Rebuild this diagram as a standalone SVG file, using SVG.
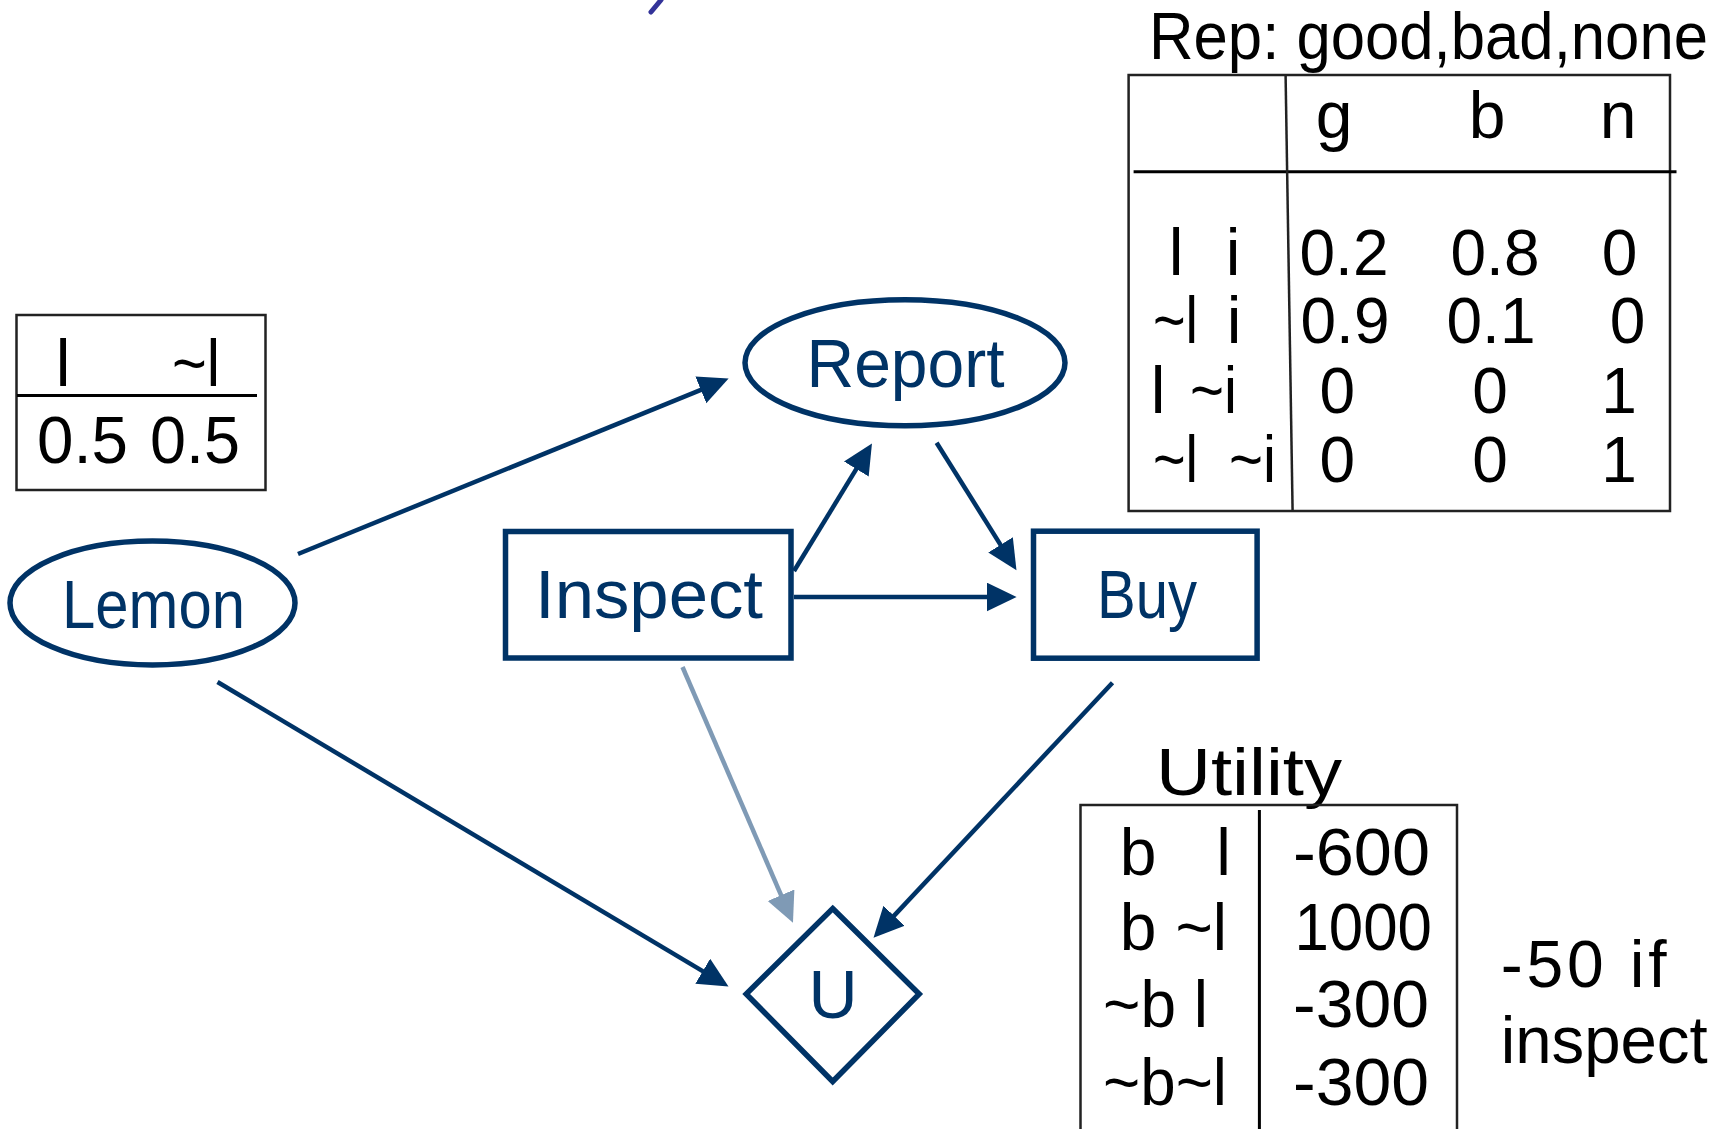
<svg xmlns="http://www.w3.org/2000/svg" width="1731" height="1129" viewBox="0 0 1731 1129">
  <style>
    .node { fill: none; stroke: #003366; stroke-width: 5.5; }
    .label { font-family: "Liberation Sans", Arial, sans-serif; font-size: 68px; fill: #003366; }
    .tbl { fill: none; stroke: #222; stroke-width: 2.5; }
    .rule { fill: none; stroke: #000; stroke-width: 3; }
    .txt { font-family: "Liberation Sans", Arial, sans-serif; font-size: 66px; fill: #000; }
    .num { font-family: "Liberation Sans", Arial, sans-serif; font-size: 64px; fill: #000; }
    .edge { fill: none; stroke: #003366; stroke-width: 4.5; marker-end: url(#arrow); }
    .edge.faint { stroke: #7f9ab5; marker-end: url(#arrowFaint); }
  </style>
  <defs>
    <marker id="arrow" markerUnits="userSpaceOnUse" markerWidth="32" markerHeight="32" refX="18" refY="14.5" orient="auto">
      <path d="M0,0 L30,14.5 L0,29 Z" fill="#003366"/>
    </marker>
    <marker id="arrowFaint" markerUnits="userSpaceOnUse" markerWidth="32" markerHeight="32" refX="18" refY="14.5" orient="auto">
      <path d="M0,0 L30,14.5 L0,29 Z" fill="#7f9ab5"/>
    </marker>
  </defs>

  <rect width="1731" height="1129" fill="#fff"/>

  <!-- tail of the title glyph above the frame -->
  <path d="M661,0 L651,12" stroke="#333399" stroke-width="5" stroke-linecap="round" fill="none"/>

  <!-- prior table for Lemon -->
  <g id="prior-table">
    <rect class="tbl" x="16.5" y="315" width="249" height="175"/>
    <line class="rule" x1="17" y1="395.5" x2="257" y2="395.5"/>
    <text class="txt" x="63" y="386" text-anchor="middle">l</text>
    <text class="txt" x="172" y="386" textLength="48" lengthAdjust="spacingAndGlyphs">~l</text>
    <text class="txt" x="37" y="463" textLength="91" lengthAdjust="spacingAndGlyphs">0.5</text>
    <text class="txt" x="150" y="463" textLength="90" lengthAdjust="spacingAndGlyphs">0.5</text>
  </g>

  <!-- report CPT -->
  <g id="rep-table">
    <text class="txt" x="1149" y="59" font-size="63" textLength="559" lengthAdjust="spacingAndGlyphs">Rep: good,bad,none</text>
    <rect class="tbl" x="1128.6" y="75" width="541.4" height="436"/>
    <line class="rule" x1="1133.6" y1="171.7" x2="1676.5" y2="171.7"/>
    <line class="tbl" x1="1285.6" y1="76" x2="1292.6" y2="511"/>
    <text class="txt" x="1334" y="138" text-anchor="middle">g</text>
    <text class="txt" x="1487" y="138" text-anchor="middle">b</text>
    <text class="txt" x="1618" y="138" text-anchor="middle">n</text>

    <text class="txt" x="1176" y="275" text-anchor="middle">l</text>
    <text class="txt" x="1233" y="275" text-anchor="middle">i</text>
    <text class="txt" x="1153" y="343" textLength="45" lengthAdjust="spacingAndGlyphs">~l</text>
    <text class="txt" x="1234" y="343" text-anchor="middle">i</text>
    <text class="txt" x="1158" y="413" text-anchor="middle">l</text>
    <text class="txt" x="1190" y="413" textLength="47" lengthAdjust="spacingAndGlyphs">~i</text>
    <text class="txt" x="1153" y="482" textLength="45" lengthAdjust="spacingAndGlyphs">~l</text>
    <text class="txt" x="1229" y="482" textLength="47" lengthAdjust="spacingAndGlyphs">~i</text>

    <text class="num" x="1344" y="275" text-anchor="middle">0.2</text>
    <text class="num" x="1495" y="275" text-anchor="middle">0.8</text>
    <text class="num" x="1619.5" y="275" text-anchor="middle">0</text>
    <text class="num" x="1345" y="343" text-anchor="middle">0.9</text>
    <text class="num" x="1491" y="343" text-anchor="middle">0.1</text>
    <text class="num" x="1627.5" y="343" text-anchor="middle">0</text>
    <text class="num" x="1337.4" y="413" text-anchor="middle">0</text>
    <text class="num" x="1490" y="413" text-anchor="middle">0</text>
    <text class="num" x="1619" y="413" text-anchor="middle">1</text>
    <text class="num" x="1337.4" y="482" text-anchor="middle">0</text>
    <text class="num" x="1490" y="482" text-anchor="middle">0</text>
    <text class="num" x="1619" y="482" text-anchor="middle">1</text>
  </g>

  <!-- utility table -->
  <g id="utility-table">
    <text class="txt" x="1156" y="795" textLength="186" lengthAdjust="spacingAndGlyphs">Utility</text>
    <path class="tbl" d="M1080.5,1135 V805 H1457 V1135"/>
    <line class="rule" x1="1259.4" y1="810" x2="1259.4" y2="1135"/>
    <text class="txt" x="1138" y="875" text-anchor="middle">b</text>
    <text class="txt" x="1223.5" y="875" text-anchor="middle">l</text>
    <text class="txt" x="1138" y="950" text-anchor="middle">b</text>
    <text class="txt" x="1175.5" y="950" textLength="51.5" lengthAdjust="spacingAndGlyphs">~l</text>
    <text class="txt" x="1103" y="1027" textLength="105" lengthAdjust="spacingAndGlyphs">~b l</text>
    <text class="txt" x="1103" y="1105" textLength="124" lengthAdjust="spacingAndGlyphs">~b~l</text>
    <text class="txt" x="1293" y="875" textLength="137" lengthAdjust="spacingAndGlyphs">-600</text>
    <text class="txt" x="1294.5" y="950" textLength="137.5" lengthAdjust="spacingAndGlyphs">1000</text>
    <text class="txt" x="1293" y="1027" textLength="136" lengthAdjust="spacingAndGlyphs">-300</text>
    <text class="txt" x="1293" y="1105" textLength="136" lengthAdjust="spacingAndGlyphs">-300</text>
    <text class="txt" x="1500.7" y="987" textLength="166">-50 if</text>
    <text class="txt" x="1500.7" y="1063" textLength="207" lengthAdjust="spacingAndGlyphs">inspect</text>
  </g>

  <!-- connectors -->
  <g id="edges">
    <path class="edge" d="M298,554 L717.5,383.1"/>
    <path class="edge" d="M794,571 L865.7,453.7"/>
    <path class="edge" d="M936.6,442.7 L1010.1,560.1"/>
    <path class="edge" d="M794,597 L1004.6,597"/>
    <path class="edge" d="M217.5,682 L718.2,980.4"/>
    <path class="edge faint" d="M682.5,667 L788.2,911.7"/>
    <path class="edge" d="M1112.5,682.7 L881.7,928.9"/>
  </g>

  <!-- nodes -->
  <g id="lemon">
    <ellipse class="node" cx="152.5" cy="603" rx="142.5" ry="62"/>
    <text class="label" x="62" y="628" textLength="183" lengthAdjust="spacingAndGlyphs">Lemon</text>
  </g>
  <g id="report">
    <ellipse class="node" cx="905" cy="362.8" rx="160" ry="63"/>
    <text class="label" x="806.5" y="387" textLength="198" lengthAdjust="spacingAndGlyphs">Report</text>
  </g>
  <g id="inspect">
    <rect class="node" x="505.5" y="531.5" width="285.5" height="126.5"/>
    <text class="label" x="535" y="618" textLength="228" lengthAdjust="spacingAndGlyphs">Inspect</text>
  </g>
  <g id="buy">
    <rect class="node" x="1033.5" y="531.2" width="223.6" height="127"/>
    <text class="label" x="1097" y="618" textLength="100" lengthAdjust="spacingAndGlyphs">Buy</text>
  </g>
  <g id="utility">
    <path class="node" d="M832.7,908.5 L919.2,994 L832.7,1081.5 L746.2,994 Z"/>
    <text class="label" x="833" y="1018" text-anchor="middle">U</text>
  </g>
</svg>
